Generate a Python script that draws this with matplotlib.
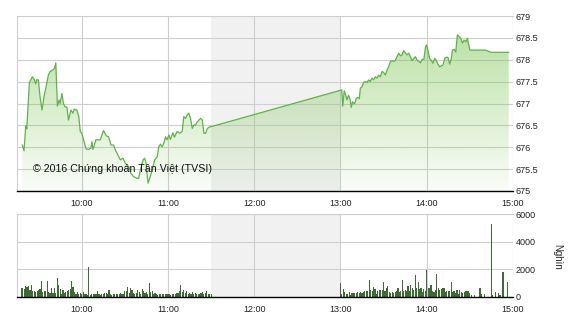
import numpy as np
import matplotlib
matplotlib.use("Agg")
import matplotlib.pyplot as plt

# ---------------- data ----------------
# price: minutes since 09:00, index value
price_minutes = [18.7, 19.9, 21.1, 21.8, 23.6, 25.7, 27.1, 28.0, 28.7, 29.9, 31.0, 32.4, 33.8, 35.7, 36.8, 38.0,
                 39.9, 41.0, 42.0, 43.1, 44.3, 45.0, 46.2, 47.3, 48.5, 49.7, 50.8, 52.5, 53.9, 54.8, 56.7, 58.0,
                 59.0, 60.1, 61.3, 63.1, 64.8, 66.4, 67.1, 67.8, 69.9, 72.9, 75.2, 77.1, 78.7, 80.4, 82.2, 83.4,
                 84.6, 86.9, 88.7, 90.4, 92.7, 94.3, 96.1, 98.5, 99.6, 100.8, 102.7, 103.8, 104.8, 105.5, 106.2,
                 107.3, 109.0, 110.8, 112.5, 113.6, 114.8, 116.0, 117.1, 118.3, 119.4, 120.6, 121.7, 123.4, 124.5,
                 126.4, 128.2, 129.9, 131.0, 132.2, 133.4, 134.5, 135.7, 136.9, 138.0, 139.2, 140.4, 142.7, 143.9,
                 145.0, 146.2, 147.4, 149.2, 150.0,
                 240.9, 241.6, 242.6, 243.7, 244.4, 245.6, 246.8, 247.5, 248.4, 249.8, 251.0, 252.1, 253.1, 253.8,
                 254.9, 256.1, 257.2, 258.4, 259.6, 260.7, 261.9, 263.0, 264.2, 265.4, 266.5, 267.7, 268.9, 270.0,
                 271.2, 272.4, 273.5, 274.7, 275.9, 277.0, 278.2, 279.3, 280.5, 281.7, 282.8, 284.0, 285.2, 286.3,
                 287.5, 288.7, 289.8, 291.0, 292.2, 293.3, 294.5, 295.7, 296.8, 298.0, 299.2, 299.9, 300.8, 302.0,
                 303.1, 304.3, 305.5, 306.6, 307.8, 309.0, 310.1, 311.3, 312.5, 313.6, 314.8, 316.0, 317.1, 317.8,
                 319.0, 320.2, 321.3, 322.5, 323.7, 324.8, 326.0, 327.2, 328.3, 330.0, 331.9, 341.2, 344.7, 357.0]
price_values = [676.05, 675.92, 676.49, 676.42, 677.48, 677.61, 677.54, 677.45, 677.54, 677.54, 677.16, 676.85,
                677.16, 677.46, 677.65, 677.73, 677.77, 677.80, 677.93, 676.94, 677.08, 677.00, 677.23, 677.00,
                676.92, 676.92, 676.62, 676.85, 676.78, 676.87, 676.85, 676.70, 676.36, 676.32, 676.17, 675.96,
                675.95, 675.98, 676.13, 675.95, 676.17, 676.17, 676.38, 676.26, 676.24, 676.05, 676.05, 675.94,
                675.86, 675.71, 675.75, 675.63, 675.56, 675.40, 675.33, 675.29, 675.29, 675.48, 675.71, 675.75,
                675.63, 675.37, 675.18, 675.29, 675.48, 675.71, 675.78, 676.01, 676.07, 676.01, 676.09, 676.24,
                676.17, 676.28, 676.18, 676.33, 676.23, 676.36, 676.32, 676.36, 676.70, 676.66, 676.74, 676.78,
                676.66, 676.43, 676.51, 676.51, 676.58, 676.66, 676.62, 676.32, 676.32, 676.43, 676.47, 676.47,
                677.31, 676.94, 677.29, 677.19, 677.08, 677.19, 677.08, 676.91, 677.04, 676.99, 677.12, 677.14,
                677.11, 677.35, 677.38, 677.48, 677.50, 677.48, 677.54, 677.50, 677.58, 677.54, 677.61, 677.58,
                677.65, 677.61, 677.73, 677.71, 677.65, 677.77, 677.84, 677.96, 677.98, 677.96, 677.99, 678.07,
                678.15, 678.09, 678.11, 678.21, 678.16, 678.11, 678.15, 678.06, 677.98, 678.03, 678.07, 677.99,
                677.96, 677.93, 678.01, 678.01, 678.30, 678.34, 678.22, 678.03, 677.99, 677.92, 678.03, 677.99,
                677.90, 677.84, 677.86, 677.88, 678.03, 678.06, 678.05, 677.90, 678.03, 678.22, 678.24, 678.18,
                678.57, 678.53, 678.49, 678.38, 678.45, 678.41, 678.49, 678.22, 678.22, 678.22, 678.17, 678.17]

# volume (thousand shares): minutes since 09:00
vol_minutes = list(range(18, 151)) + list(range(240, 332)) + [333, 337, 338, 340, 345, 346, 348, 350, 351, 353, 356]
vol_values = [620, 620, 600, 820, 740, 800, 500, 860, 420, 420, 370, 400, 480, 600, 1160, 360, 420, 420, 1160, 360,
              320, 620, 320, 620, 320, 1400, 860, 600, 250, 500, 320, 370, 420, 500, 600, 1180, 740, 370, 250, 370,
              250, 320, 250, 370, 200, 250, 150, 2150, 170, 200, 250, 250, 200, 420, 250, 170, 250, 250, 320, 320,
              250, 500, 250, 170, 250, 250, 250,
              250, 200, 300, 250, 200, 420, 420, 750, 300, 620, 500, 300, 200, 300, 500, 350, 200, 550, 450, 300,
              350, 200, 1040, 370, 420, 250, 300, 200, 150, 250, 200, 250, 250, 250, 250, 200, 250, 170, 250, 200,
              250, 300, 320, 420, 870, 370, 500, 300, 420, 200, 300, 250, 370, 200, 300, 250, 250, 250, 300, 370,
              250, 300, 420, 250, 200, 250,
              990, 250, 570, 350, 200, 250, 350, 170, 320, 320, 300, 320, 350, 320, 350, 320, 350, 420, 420, 420,
              1230, 500, 420, 740, 570, 250, 420, 500, 500, 500, 1060, 420, 620, 790, 370, 320, 370, 320, 370, 420,
              620, 370, 420, 1235, 420, 500, 420, 815, 420, 865, 620, 500, 1600, 670, 1060, 570, 620, 370, 570, 420,
              1925, 670, 620, 860, 400, 370, 500, 1650, 620, 500, 600, 620, 620, 370, 450, 420, 420, 1110, 370, 420,
              320, 500, 250, 500, 370, 320, 370, 450, 450, 450, 320, 120,
              170, 670, 250, 200, 5300, 180, 370, 320, 120, 1780, 1110]

hour_ticks = [60, 120, 180, 240, 300, 360]
hour_labels = ["10:00", "11:00", "12:00", "13:00", "14:00", "15:00"]
price_ticks = [675, 675.5, 676, 676.5, 677, 677.5, 678, 678.5, 679]
price_labels = ["675", "675.5", "676", "676.5", "677", "677.5", "678", "678.5", "679"]
vol_ticks = [0, 2000, 4000, 6000]
vol_labels = ["0", "2000", "4000", "6000"]
lunch_start, lunch_end = 150, 240
copyright_text = "© 2016 Chứng khoán Tân Việt (TVSI)"
vol_unit = "Nghìn"

# ---------------- style ----------------
plt.rcParams['font.family'] = ['Liberation Sans', 'DejaVu Sans']
FS = 6.5
GRID = '#cfcfcf'
BAND = '#f1f1f1'
LINE = '#63b04f'
BAR = '#3e6a35'

W, H = 570, 320
fig = plt.figure(figsize=(W / 100, H / 100), dpi=100)
fig.patch.set_facecolor('white')

def px_axes(l, t, r, b):
    return fig.add_axes([l / W, 1 - b / H, (r - l) / W, (b - t) / H])

ax = px_axes(17, 16, 513, 191)
axv = px_axes(17, 214, 513, 297)

xmin, xmax = 15, 360

def style(a, yt, yl, ylim):
    a.set_xlim(xmin, xmax)
    a.set_ylim(*ylim)
    a.axvspan(lunch_start, lunch_end, color=BAND, zorder=0, lw=0)
    a.set_axisbelow(True)
    a.set_xticks(hour_ticks)
    a.set_xticklabels(hour_labels)
    a.set_yticks(yt)
    a.set_yticklabels(yl)
    a.yaxis.tick_right()
    a.grid(True, color=GRID, lw=0.8, zorder=0.5)
    a.tick_params(axis='both', length=0, labelsize=FS, colors='#222222')
    a.tick_params(axis='y', pad=2)
    a.tick_params(axis='x', pad=6)
    for s in ['left', 'top']:
        a.spines[s].set_color(GRID)
        a.spines[s].set_linewidth(0.8)
    a.spines['right'].set_visible(False)
    a.spines['bottom'].set_color('black')
    a.spines['bottom'].set_linewidth(1.0)
    a.spines['bottom'].set_zorder(5)

style(ax, price_ticks, price_labels, (675, 679))
style(axv, vol_ticks, vol_labels, (0, 6000))

# gradient fill under price line
t = np.array(price_minutes)
p = np.array(price_values)
poly = ax.fill_between(t, p, 675, color='none', lw=0)
n = 256
grad = np.zeros((n, 1, 4))
alpha = np.linspace(0.55, 0.04, n)[:, None]
grad[..., 0] = 120 / 255
grad[..., 1] = 196 / 255
grad[..., 2] = 78 / 255
grad[..., 3] = alpha
im = ax.imshow(grad, aspect='auto', extent=[xmin, xmax, 675, 679], origin='upper', zorder=1,
               interpolation='bilinear')
im.set_clip_path(poly.get_paths()[0], transform=ax.transData)
ax.plot(t, p, color=LINE, lw=0.9, zorder=3)
ax.set_xlim(xmin, xmax)
ax.set_ylim(675, 679)

ax.text(0.032, 0.125, copyright_text, transform=ax.transAxes,
        fontsize=7.7, color='#111111', va='center', ha='left', zorder=6)

# volume bars
axv.bar(vol_minutes, vol_values, width=0.8, color=BAR, lw=0, zorder=2, antialiased=False)

fig.text(557 / W, 1 - 257 / H, vol_unit, rotation=270, fontsize=7, va='center', ha='center', color='#222222')

fig.savefig('out.png', dpi=100)
